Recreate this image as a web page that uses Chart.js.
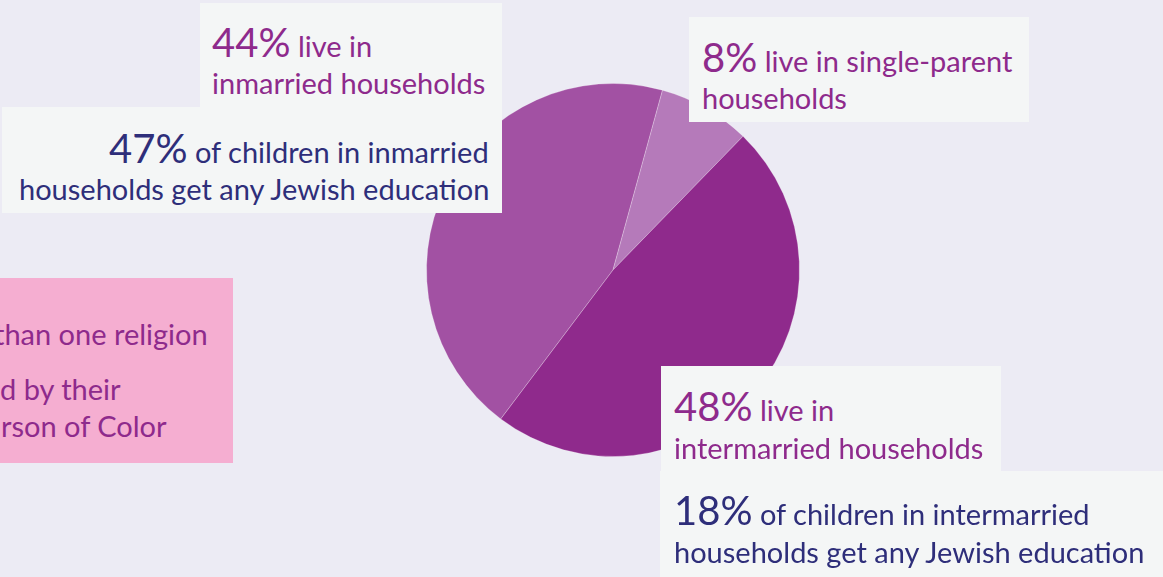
<!DOCTYPE html>
<html>
<head>
<meta charset="utf-8">
<script src="https://cdn.jsdelivr.net/npm/chart.js@4"></script>
<style>
  html, body { margin:0; padding:0; background:#ecebf4; width:1163px; height:577px; overflow:hidden; }
  body { position:relative; font-family:"Lato", "Noto Sans", sans-serif; }
  #wrap { position:absolute; left:0; top:0; width:1163px; height:577px; }
  .box { position:absolute; background:#f4f6f6; box-sizing:border-box; }
  .line { position:absolute; white-space:nowrap; line-height:1; }
  .big { font-size:40px; }
  .sm { font-size:29px; }
  .pur { color:#8e2a8c; }
  .navy { color:#2e2e7a; }
  #pink { position:absolute; left:0; top:278px; width:233px; height:185px; background:#f5aed1; overflow:hidden; }
</style>
</head>
<body>
<div id="wrap"><canvas id="c" width="1163" height="577"></canvas></div>
<div id="pink"></div>
<div id="boxes"></div>
<script>
// ---- data ----
const categories = ["inmarried households", "single-parent households", "intermarried households"];
const shares = [44, 8, 48];
const sliceColors = ["#a251a3", "#b57aba", "#8f2a8c"];
const educationShares = [47, 18];   // children in inmarried / intermarried households getting any Jewish education
const sideNoteLines = ["than one religion", "d by their", "rson of Color"];

// ---- chart ----
new Chart(document.getElementById('c'), {
  type: 'pie',
  data: {
    labels: categories,
    datasets: [{
      data: shares,
      backgroundColor: sliceColors,
      borderColor: 'rgba(255,255,255,0.25)',
      borderWidth: 1
    }]
  },
  options: {
    responsive: false,
    animation: false,
    rotation: -143,
    layout: { padding: { top: 83, bottom: 120, left: 426, right: 363 } },
    plugins: { legend: { display: false }, tooltip: { enabled: false } }
  }
});

// ---- annotation boxes ----
const boxes = document.getElementById('boxes');
function box(x, y, w, h) {
  const d = document.createElement('div'); d.className = 'box';
  Object.assign(d.style, { left: x + 'px', top: y + 'px', width: w + 'px', height: h + 'px' });
  boxes.appendChild(d);
}
function line(html, x, baseline, cls, align, parent, parentTop) {
  parent = parent || boxes; parentTop = parentTop || 0;
  const d = document.createElement('div'); d.className = 'line ' + cls;
  d.innerHTML = html;
  parent.appendChild(d);
  const probe = document.createElement('span');
  probe.style.display = 'inline-block'; probe.style.width = '0'; probe.style.height = '0';
  probe.style.verticalAlign = 'baseline';
  d.appendChild(probe);
  d.style.top = '0px';
  const off = probe.offsetTop;
  d.style.top = (baseline - parentTop - off) + 'px';
  if (align === 'right') { d.style.left = (x - d.offsetWidth) + 'px'; } else { d.style.left = x + 'px'; }
}

box(200, 3, 302, 110);
box(2, 107, 500, 106);
box(689, 17, 340, 105);
box(661, 366, 340, 110);
box(660, 471, 503, 106);

line('<span class="big">' + shares[0] + '%</span> live in', 212, 57, 'sm pur');
line(categories[0], 212, 94, 'sm pur');
line('<span class="big">' + educationShares[0] + '%</span> of children in inmarried', 489, 163, 'sm navy', 'right');
line('households get any Jewish education', 489, 200, 'sm navy', 'right');
line('<span class="big">' + shares[1] + '%</span> live in single-parent', 702, 72, 'sm pur');
line('households', 702, 109, 'sm pur');
line('<span class="big">' + shares[2] + '%</span> live in', 674, 421, 'sm pur');
line(categories[2], 674, 459, 'sm pur');
line('<span class="big">' + educationShares[1] + '%</span> of children in intermarried', 674, 525, 'sm navy');
line('households get any Jewish education', 674, 563, 'sm navy');

// side note (cropped at the left edge in the reference)
const pink = document.getElementById('pink');
const baselines = [345, 400, 437];
const rightEdges = [208, 121, 167];
sideNoteLines.forEach((t, i) => {
  line(t, rightEdges[i], baselines[i], 'sm pur', 'right', pink, 278);
});
</script>
</body>
</html>
